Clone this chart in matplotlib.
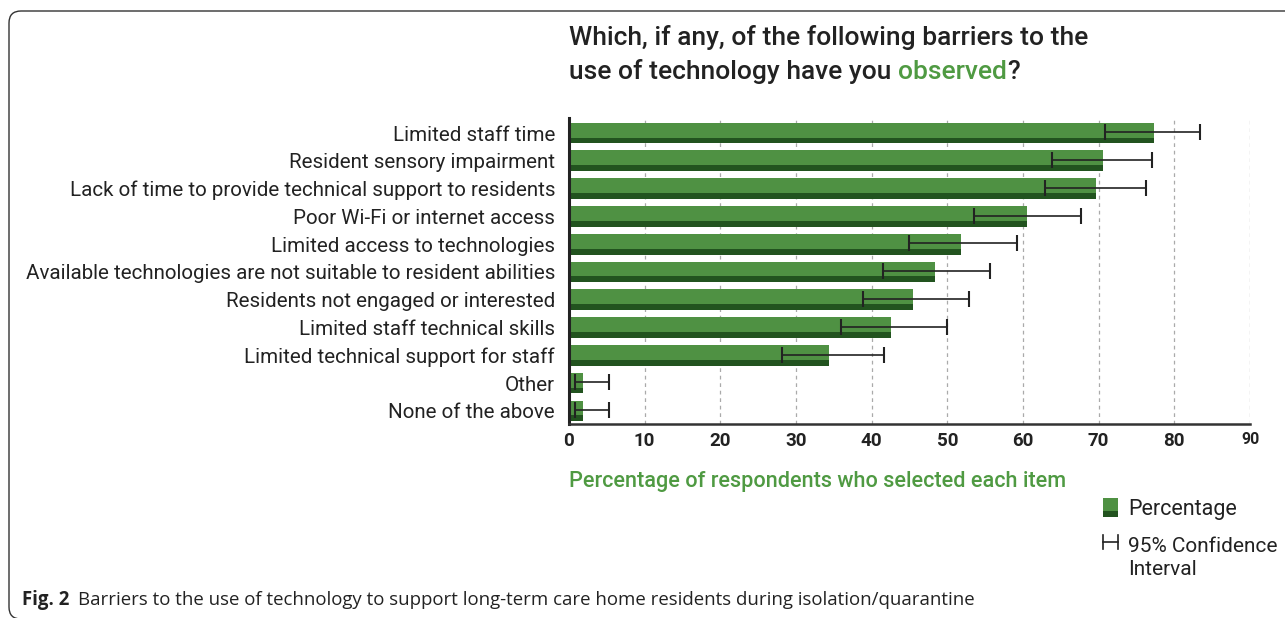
import numpy as np
import matplotlib
matplotlib.use("Agg")
import matplotlib.pyplot as plt
from matplotlib.patches import Rectangle, FancyBboxPatch
from matplotlib.lines import Line2D

# data
barriers = [
    "Limited staff time",
    "Resident sensory impairment",
    "Lack of time to provide technical support to residents",
    "Poor Wi-Fi or internet access",
    "Limited access to technologies",
    "Available technologies are not suitable to resident abilities",
    "Residents not engaged or interested",
    "Limited staff technical skills",
    "Limited technical support for staff",
    "Other",
    "None of the above",
]
percent = np.array([77.3, 70.6, 69.6, 60.5, 51.8, 48.4, 45.4, 42.5, 34.4, 1.9, 1.9])
ci_low = np.array([70.9, 63.8, 62.9, 53.5, 44.9, 41.5, 38.8, 35.9, 28.1, 0.8, 0.8])
ci_high = np.array([83.4, 77.1, 76.3, 67.7, 59.2, 55.7, 52.8, 50.0, 41.6, 5.3, 5.3])
x_ticks = [0, 10, 20, 30, 40, 50, 60, 70, 80, 90]

light_green = "#4f9143"
dark_green = "#22531f"
text_green = "#4f9a42"
dark = "#222222"

fig = plt.figure(figsize=(12.85, 6.18), dpi=100)
ax = fig.add_axes([569 / 1285, 1 - 424 / 618, (1250 - 569) / 1285, (424 - 118) / 618])

y = np.arange(len(barriers))
bar_h = 0.745
strip_h = 0.21

# two-tone bars: light body with a darker strip at the bottom
ax.barh(y, percent, height=bar_h, color=light_green, zorder=2)
ax.barh(y + bar_h / 2 - strip_h / 2, percent, height=strip_h, color=dark_green, zorder=2)

# 95% CI
ax.errorbar(percent, y - 0.03, xerr=[percent - ci_low, ci_high - percent], fmt="none",
            ecolor=dark, elinewidth=1.2, capsize=5.5, capthick=1.5, zorder=3)

ax.set_xlim(0, 90)
ax.set_ylim(len(barriers) - 0.53, -0.54)
ax.set_xticks(x_ticks)
ax.set_xticklabels([str(t) for t in x_ticks], fontfamily="Roboto", fontweight="bold",
                   fontsize=13.5, color=dark)
ax.get_xticklabels()[-1].set_fontsize(11.5)
ax.set_yticks(y)
ax.set_yticklabels(barriers, fontfamily="Roboto", fontsize=14.75, color=dark)
ax.tick_params(axis="both", length=0)
ax.tick_params(axis="y", pad=10)
ax.tick_params(axis="x", pad=6)

ax.xaxis.grid(True, linestyle=(0, (3, 3)), color="#aaaaaa", linewidth=0.9, zorder=0)
ax.set_axisbelow(True)
for side in ["top", "right"]:
    ax.spines[side].set_visible(False)
ax.spines["left"].set_linewidth(2.2)
ax.spines["left"].set_color(dark)
ax.spines["bottom"].set_linewidth(1.8)
ax.spines["bottom"].set_color("#333333")

ax.set_xlabel("Percentage of respondents who selected each item", fontfamily="Roboto",
              fontweight="medium", fontsize=15.6, color=text_green, loc="left", labelpad=15)

# title with a green word
fig.text(569 / 1285, 1 - 38 / 618, "Which, if any, of the following barriers to the",
         fontfamily="Roboto", fontweight="medium", fontsize=19, color=dark, va="center")
t1 = fig.text(569 / 1285, 1 - 72 / 618, "use of technology have you ",
              fontfamily="Roboto", fontweight="medium", fontsize=19, color=dark, va="center")
fig.canvas.draw()
r = fig.canvas.get_renderer()
x_next = t1.get_window_extent(r).x1 / fig.bbox.width
t2 = fig.text(x_next, 1 - 72 / 618, "observed", fontfamily="Roboto", fontweight="medium",
              fontsize=19, color=text_green, va="center")
x_next = t2.get_window_extent(r).x1 / fig.bbox.width
fig.text(x_next, 1 - 72 / 618, "?", fontfamily="Roboto", fontweight="medium",
         fontsize=19, color=dark, va="center")

# legend drawn by hand
fig.add_artist(Rectangle((1103 / 1285, 1 - 517 / 618), 15 / 1285, 19 / 618,
                         facecolor=light_green, edgecolor="none", transform=fig.transFigure))
fig.add_artist(Rectangle((1103 / 1285, 1 - 517 / 618), 15 / 1285, 6 / 618,
                         facecolor=dark_green, edgecolor="none", transform=fig.transFigure))
fig.text(1128 / 1285, 1 - 509 / 618, "Percentage", fontfamily="Roboto", fontsize=15.5,
         color=dark, va="center")
fig.add_artist(Line2D([1103 / 1285, 1118 / 1285], [1 - 542 / 618] * 2, color=dark, lw=1.2,
                      transform=fig.transFigure))
for xx in [1103, 1118]:
    fig.add_artist(Line2D([xx / 1285] * 2, [1 - 535 / 618, 1 - 549 / 618], color=dark, lw=1.2,
                          transform=fig.transFigure))
fig.text(1128 / 1285, 1 - 558 / 618, "95% Confidence\nInterval", fontfamily="Roboto",
         fontsize=15, color=dark, va="center", linespacing=1.3)

# caption
cap = fig.text(22 / 1285, 1 - 600 / 618, "Fig. 2", fontfamily="Open Sans", fontweight="bold",
               fontsize=13.4, color=dark, va="center")
x_next = cap.get_window_extent(r).x1 / fig.bbox.width + 9 / 1285
fig.text(x_next, 1 - 600 / 618,
         "Barriers to the use of technology to support long-term care home residents during isolation/quarantine",
         fontfamily="Open Sans", fontsize=13.4, color=dark, va="center")

# rounded frame
fig.add_artist(FancyBboxPatch((0.09, -0.01), 14, 6.08,
                              boxstyle="round,pad=0,rounding_size=0.12",
                              facecolor="none", edgecolor="#333333", lw=1.0,
                              transform=fig.dpi_scale_trans))

fig.savefig("out.png", dpi=100)
